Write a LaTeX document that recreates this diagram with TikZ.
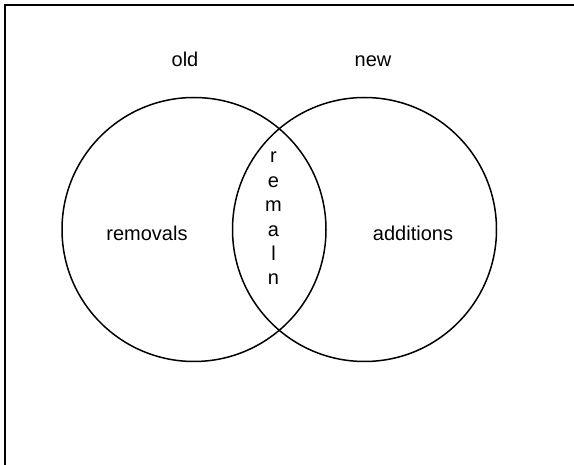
\documentclass[tikz,border=0pt]{standalone}
\usepackage{fontspec}
\setmainfont{Liberation Sans}
\begin{document}
\begin{tikzpicture}[x=1pt,y=-1pt,
  lbl/.style={inner sep=0pt,font=\fontsize{20}{24.4}\selectfont},
  setcircle/.style={draw,line width=1.5pt,circle,minimum size=264pt,inner sep=0pt},
  frame/.style={line width=1.6pt}]
\useasboundingbox (0,0) rectangle (574,465);
\draw[frame] (4.7,470) -- (4.7,5.3) -- (580,5.3);
\node[setcircle] (old) at (194,229.5) {};
\node[setcircle] (new) at (364.5,229.5) {};
\node[lbl,anchor=base] (oldlbl) at (185,67) {old};
\node[lbl,anchor=base] (newlbl) at (373,67) {new};
\node[lbl] (rem) at (147,233) {removals};
\node[lbl] (add) at (413,233) {additions};
\node[lbl,align=center] (remain) at (273.5,218.5) {r\\e\\m\\a\\l\\n};
\end{tikzpicture}
\end{document}
